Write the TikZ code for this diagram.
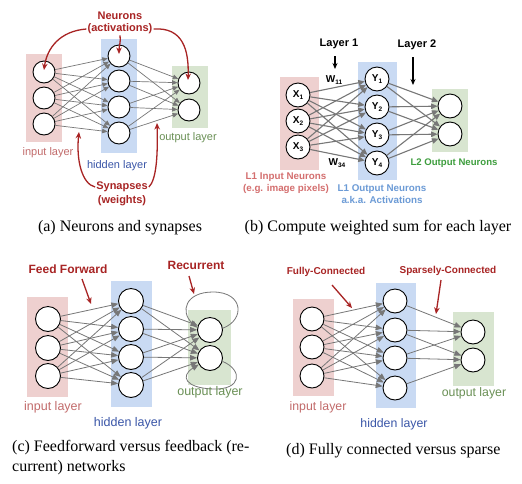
\documentclass[tikz,border=0pt]{standalone}
\usepackage{fontspec}
\setmainfont{Liberation Serif}
\setsansfont{Liberation Sans}
\usetikzlibrary{arrows.meta}
\definecolor{pinkbox}{HTML}{EED0CF}
\definecolor{bluebox}{HTML}{C9DAF3}
\definecolor{greenbox}{HTML}{D8E5D0}
\definecolor{inputtxt}{HTML}{C26B6B}
\definecolor{hiddentxt}{HTML}{3A56A8}
\definecolor{outputtxt}{HTML}{6A9055}
\definecolor{redc}{HTML}{A82424}
\definecolor{lonein}{HTML}{D46F6F}
\definecolor{loneout}{HTML}{6C9BD6}
\definecolor{ltwoout}{HTML}{3E9E3E}
\definecolor{conngray}{HTML}{777777}
\newcommand{\lsub}[2]{#1\raisebox{-0.45ex}{\fontsize{6.5}{7}\selectfont #2}}
\begin{document}
\begin{tikzpicture}[x=1pt,y=-1pt,
  neur/.style={circle, draw=black, line width=0.9pt, fill=white, inner sep=0pt, minimum size=#1},
  neur/.default=22pt,
  layerbox/.style={inner sep=0pt, draw=none},
  conna/.style={draw=conngray, line width=0.7pt, -{Triangle[length=5.5pt,width=4.5pt]}},
  connb/.style={draw=conngray, line width=1.1pt, -{Triangle[length=6.5pt,width=5.5pt]}},
  connc/.style={draw=conngray, line width=0.8pt, -{Triangle[length=7pt,width=5.5pt]}},
  lbl/.style={font=\sffamily\fontsize{11}{13}\selectfont, inner sep=1pt},
  redlbl/.style={font=\sffamily\bfseries\fontsize{11}{13}\selectfont, text=redc, inner sep=1pt},
  redarr/.style={draw=redc, line width=1.3pt, -{Stealth[length=6.5pt,width=5.5pt]}},
  blackarr/.style={draw=black, line width=1.3pt, -{Stealth[length=6pt,width=5pt]}},
  capt/.style={font=\fontsize{16}{19}\selectfont, inner sep=0pt}
]
\useasboundingbox (0,0) rectangle (522,483);
\fill[white] (0,0) rectangle (522,483);

% ---------------- (a) ----------------
\node[layerbox, fill=pinkbox, minimum width=36pt, minimum height=88pt] (a-ib) at (44,98) {};
\node[layerbox, fill=bluebox, minimum width=36pt, minimum height=114pt] (a-hb) at (119,96) {};
\node[layerbox, fill=greenbox, minimum width=36pt, minimum height=62pt] (a-ob) at (190,97) {};
\foreach \n/\y in {1/72,2/98,3/124} \node[neur] (a-i\n) at (44,\y) {};
\foreach \n/\y in {1/56,2/81,3/107,4/133} \node[neur] (a-h\n) at (119,\y) {};
\foreach \n/\y in {1/83,2/110} \node[neur] (a-o\n) at (189,\y) {};
\foreach \i in {1,2,3} \foreach \j in {1,2,3,4} \draw[conna] (a-i\i) -- (a-h\j);
\foreach \i in {1,2,3,4} \foreach \j in {1,2} \draw[conna] (a-h\i) -- (a-o\j);
\node[redlbl] (a-neur) at (120,16) {Neurons};
\node[redlbl] (a-act) at (120,29) {(activations)};
\node[redlbl] (a-syn) at (122,187) {Synapses};
\node[redlbl] (a-wgt) at (122,201) {(weights)};
\node[lbl, text=inputtxt] (a-il) at (48,153) {input layer};
\node[lbl, text=hiddentxt] (a-hl) at (117,166) {hidden layer};
\node[lbl, text=outputtxt] (a-ol) at (188,138) {output layer};
\coordinate (a-t1) at (44,70);
\coordinate (a-t2) at (119,54);
\coordinate (a-t3) at (188,80);
\coordinate (a-s1) at (79,132);
\coordinate (a-s2) at (157,123);
\draw[redarr] (a-act.west) .. controls (60,31) and (47,48) .. (a-t1);
\draw[redarr] (a-act.south) .. controls (121,42) and (119,46) .. (a-t2);
\draw[redarr] (a-act.east) .. controls (183,27) and (189,50) .. (a-t3);
\draw[redarr] (a-syn.west) .. controls (82,184) and (76,160) .. (a-s1);
\draw[redarr] (a-syn.east) .. controls (156,180) and (158,158) .. (a-s2);
\node[capt] (a-cap) at (120,228) {(a) Neurons and synapses};

% ---------------- (b) ----------------
\node[layerbox, fill=pinkbox, minimum width=39pt, minimum height=93pt] (b-ib) at (299.5,123.5) {};
\node[layerbox, fill=bluebox, minimum width=39pt, minimum height=118pt] (b-hb) at (377.5,121) {};
\node[layerbox, fill=greenbox, minimum width=36pt, minimum height=63pt] (b-ob) at (450,120.5) {};
\foreach \n/\y in {1/95,2/121,3/147} \node[neur=24pt, font=\sffamily\bfseries\fontsize{10}{12}\selectfont] (b-x\n) at (298,\y) {\lsub{X}{\n}};
\foreach \n/\y in {1/79,2/107,3/135,4/163} \node[neur=24pt, font=\sffamily\bfseries\fontsize{10}{12}\selectfont] (b-y\n) at (377,\y) {\lsub{Y}{\n}};
\foreach \n/\y in {1/106,2/134} \node[neur=24pt] (b-o\n) at (450,\y) {};
\foreach \i in {1,2,3} \foreach \j in {1,2,3,4} \draw[connb] (b-x\i) -- (b-y\j);
\foreach \i in {1,2,3,4} \foreach \j in {1,2} \draw[connb] (b-y\i) -- (b-o\j);
\node[redlbl, text=black] (b-l1) at (339,44) {Layer 1};
\node[redlbl, text=black] (b-l2) at (417,45) {Layer 2};
\coordinate (b-a1s) at (335,56);
\coordinate (b-a1e) at (335,69);
\coordinate (b-a2s) at (413,57);
\coordinate (b-a2e) at (413,85);
\draw[blackarr] (b-a1s) -- (b-a1e);
\draw[blackarr] (b-a2s) -- (b-a2e);
\node[font=\sffamily\bfseries\fontsize{10}{12}\selectfont, inner sep=0pt] (b-w11) at (334,80) {\lsub{W}{11}};
\node[font=\sffamily\bfseries\fontsize{10}{12}\selectfont, inner sep=0pt] (b-w34) at (337,163) {\lsub{W}{34}};
\node[font=\sffamily\bfseries\fontsize{9.8}{12}\selectfont, text=lonein, align=center, inner sep=0pt] (b-l1in) at (286,183) {L1 Input Neurons\\(e.g. image pixels)};
\node[font=\sffamily\bfseries\fontsize{9.8}{12}\selectfont, text=loneout, align=center, inner sep=0pt] (b-l1out) at (382,194) {L1 Output Neurons\\a.k.a. Activations};
\node[font=\sffamily\bfseries\fontsize{9.6}{12}\selectfont, text=ltwoout, inner sep=0pt] (b-l2out) at (454,163) {L2 Output Neurons};
\node[capt] (b-cap) at (378,228) {(b) Compute weighted sum for each layer};

% ---------------- (c) ----------------
\node[layerbox, fill=pinkbox, minimum width=41pt, minimum height=100pt] (c-ib) at (47.5,347) {};
\node[layerbox, fill=bluebox, minimum width=41pt, minimum height=126pt] (c-hb) at (131.5,344) {};
\node[layerbox, fill=greenbox, minimum width=43pt, minimum height=75pt] (c-ob) at (209.5,347.5) {};
\foreach \n/\y in {1/319,2/348,3/376} \node[neur=25pt] (c-i\n) at (48,\y) {};
\foreach \n/\y in {1/301,2/329,3/357,4/385} \node[neur=25pt] (c-h\n) at (131,\y) {};
\foreach \n/\y in {1/330,2/358} \node[neur=25pt] (c-o\n) at (210,\y) {};
\foreach \i in {1,2,3} \foreach \j in {1,2,3,4} \draw[connc] (c-i\i) -- (c-h\j);
\foreach \i in {1,2,3,4} \foreach \j in {1,2} \draw[connc] (c-h\i) -- (c-o\j);
\draw[connc] (c-o1.8) .. controls (245,320) and (244,292) .. (213,292) .. controls (185,292) and (180,312) .. (c-o1.170);
\draw[connc] (c-o2.-15) .. controls (243,370) and (242,390) .. (213,389) .. controls (185,388) and (180,376) .. (c-o2.-150);
\node[redlbl, font=\sffamily\bfseries\fontsize{12}{14}\selectfont] (c-ff) at (68,269) {Feed Forward};
\node[redlbl, font=\sffamily\bfseries\fontsize{12}{14}\selectfont] (c-rec) at (196,265) {Recurrent};
\coordinate (c-ffs) at (82,279);
\coordinate (c-ffe) at (91,304);
\coordinate (c-recs) at (189,276);
\coordinate (c-rece) at (194,294);
\draw[redarr] (c-ffs) -- (c-ffe);
\draw[redarr] (c-recs) -- (c-rece);
\node[lbl, font=\sffamily\fontsize{12.5}{15}\selectfont, text=inputtxt] (c-il) at (53,407) {input layer};
\node[lbl, font=\sffamily\fontsize{12.5}{15}\selectfont, text=hiddentxt] (c-hl) at (128,423) {hidden layer};
\node[lbl, font=\sffamily\fontsize{12.5}{15}\selectfont, text=outputtxt] (c-ol) at (210,392) {output layer};
\node[capt, anchor=west] (c-cap1) at (12,448) {(c) Feedforward versus feedback (re-};
\node[capt, anchor=west] (c-cap2) at (12,468) {current) networks};

% ---------------- (d) ----------------
\node[layerbox, fill=pinkbox, minimum width=41pt, minimum height=97pt] (d-ib) at (313.5,347.5) {};
\node[layerbox, fill=bluebox, minimum width=40pt, minimum height=125pt] (d-hb) at (396,345.5) {};
\node[layerbox, fill=greenbox, minimum width=41pt, minimum height=74pt] (d-ob) at (473.5,349) {};
\foreach \n/\y in {1/319,2/347,3/376} \node[neur=24pt] (d-i\n) at (312,\y) {};
\foreach \n/\y in {1/301,2/330,3/358,4/388} \node[neur=24pt] (d-h\n) at (395,\y) {};
\foreach \n/\y in {1/332,2/360} \node[neur=24pt] (d-o\n) at (473,\y) {};
\foreach \i in {1,2,3} \foreach \j in {1,2,3,4} \draw[connc] (d-i\i) -- (d-h\j);
\draw[connc] (d-h1) -- (d-o1);
\draw[connc] (d-h2) -- (d-o1);
\draw[connc] (d-h2) -- (d-o2);
\draw[connc] (d-h3) -- (d-o1);
\draw[connc] (d-h3) -- (d-o2);
\draw[connc] (d-h4) -- (d-o2);
\node[redlbl, font=\sffamily\bfseries\fontsize{10}{12}\selectfont] (d-fc) at (326,272) {Fully-Connected};
\node[redlbl, font=\sffamily\bfseries\fontsize{10}{12}\selectfont] (d-sc) at (448,271) {Sparsely-Connected};
\coordinate (d-fcs) at (332,285);
\coordinate (d-fce) at (352,308);
\coordinate (d-scs) at (441,280);
\coordinate (d-sce) at (436,314);
\draw[redarr] (d-fcs) -- (d-fce);
\draw[redarr] (d-scs) -- (d-sce);
\node[lbl, font=\sffamily\fontsize{12.3}{15}\selectfont, text=inputtxt] (d-il) at (318,407) {input layer};
\node[lbl, font=\sffamily\fontsize{12.3}{15}\selectfont, text=hiddentxt] (d-hl) at (394,424) {hidden layer};
\node[lbl, font=\sffamily\fontsize{12.3}{15}\selectfont, text=outputtxt] (d-ol) at (474,393) {output layer};
\node[capt, anchor=west] (d-cap) at (286,451) {(d) Fully connected versus sparse};
\end{tikzpicture}
\end{document}
